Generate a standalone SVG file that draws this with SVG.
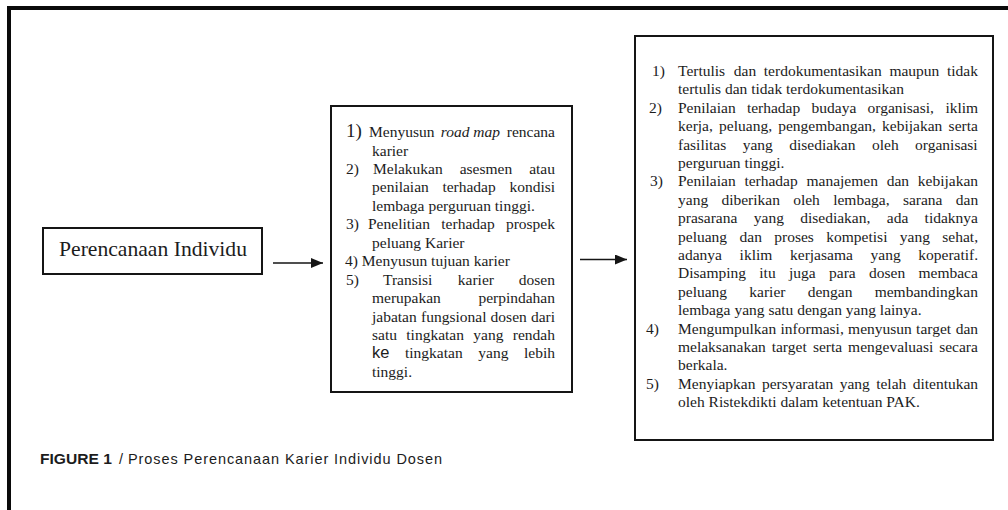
<svg xmlns="http://www.w3.org/2000/svg" width="1008" height="510" viewBox="0 0 1008 510">
<style>
.box{fill:#fff;stroke:#151515;stroke-width:2}
.t{font-family:"Liberation Serif","Times New Roman",serif;font-size:15.5px;fill:#1c1c1c}
.big{font-size:21px}
.num1{font-size:19px}
.cap{font-family:"Liberation Sans",Arial,sans-serif;font-size:14.5px;fill:#1c1c1c}
.conn{stroke:#151515;stroke-width:1.5;fill:none}
</style>
<defs>
<marker id="ah" markerUnits="userSpaceOnUse" markerWidth="12" markerHeight="10" refX="12" refY="5" orient="auto">
<path d="M0,0 L12,5 L0,10 Z" fill="#151515"/>
</marker>
</defs>
<rect width="1008" height="510" fill="#fff"/>
<path d="M9,512 V8 H1012" fill="none" stroke="#0a0a0a" stroke-width="4"/>

<g id="node-perencanaan">
<rect class="box" x="43" y="228" width="219" height="46"/>
<text class="t big" x="59" y="256" textLength="188" lengthAdjust="spacingAndGlyphs">Perencanaan Individu</text>
</g>

<g id="node-langkah">
<rect class="box" x="331" y="106" width="241" height="286"/>
<text class="t num1" x="346" y="137">1)</text>
<text class="t" y="137"><tspan x="369">Menyusun</tspan><tspan x="440.7" font-style="italic">road map</tspan><tspan x="506.8">rencana</tspan></text>
<text class="t" x="372" y="155.5">karier</text>
<text class="t" y="173.9"><tspan x="346">2)</tspan><tspan x="373">Melakukan</tspan><tspan x="459.7">asesmen</tspan><tspan x="529.2">atau</tspan></text>
<text class="t" y="192.4"><tspan x="372">penilaian</tspan><tspan x="442.4">terhadap</tspan><tspan x="509.4">kondisi</tspan></text>
<text class="t" x="372" y="210.8">lembaga perguruan tinggi.</text>
<text class="t" y="229.3"><tspan x="346">3)</tspan><tspan x="368">Penelitian</tspan><tspan x="441.3">terhadap</tspan><tspan x="505.9">prospek</tspan></text>
<text class="t" x="372" y="247.7">peluang Karier</text>
<text class="t" x="345" y="266.2">4) Menyusun tujuan karier</text>
<text class="t" y="284.6"><tspan x="346">5)</tspan><tspan x="383">Transisi</tspan><tspan x="457.8">karier</tspan><tspan x="518.8">dosen</tspan></text>
<text class="t" y="303.1"><tspan x="372">merupakan</tspan><tspan x="478.4">perpindahan</tspan></text>
<text class="t" y="321.5"><tspan x="372">jabatan</tspan><tspan x="421">fungsional</tspan><tspan x="490.6">dosen</tspan><tspan x="530.9">dari</tspan></text>
<text class="t" y="340"><tspan x="372">satu</tspan><tspan x="406.3">tingkatan</tspan><tspan x="473.3">yang</tspan><tspan x="512.8">rendah</tspan></text>
<text class="t" y="358.4"><tspan x="372" font-family="'Liberation Sans',Arial,sans-serif" font-size="16.5">ke</tspan><tspan x="405">tingkatan</tspan><tspan x="478.3">yang</tspan><tspan x="524">lebih</tspan></text>
<text class="t" x="372" y="376.9">tinggi.</text>
</g>

<g id="node-penjelasan">
<rect class="box" x="635" y="36" width="358" height="404"/>
<text class="t" x="652" y="76">1)</text>
<text class="t" y="76"><tspan x="678">Tertulis</tspan><tspan x="733.8">dan</tspan><tspan x="763.8">terdokumentasikan</tspan><tspan x="889.4">maupun</tspan><tspan x="946.9">tidak</tspan></text>
<text class="t" x="678" y="94.4">tertulis dan tidak terdokumentasikan</text>
<text class="t" x="649" y="112.8">2)</text>
<text class="t" y="112.8"><tspan x="678">Penilaian</tspan><tspan x="746.9">terhadap</tspan><tspan x="811.5">budaya</tspan><tspan x="867.5">organisasi,</tspan><tspan x="945.4">iklim</tspan></text>
<text class="t" y="131.2"><tspan x="678">kerja,</tspan><tspan x="719.1">peluang,</tspan><tspan x="778.2">pengembangan,</tspan><tspan x="882.1">kebijakan</tspan><tspan x="948.6">serta</tspan></text>
<text class="t" y="149.6"><tspan x="678">fasilitas</tspan><tspan x="742.7">yang</tspan><tspan x="789.2">disediakan</tspan><tspan x="872">oleh</tspan><tspan x="915.1">organisasi</tspan></text>
<text class="t" x="678" y="168">perguruan tinggi.</text>
<text class="t" x="650" y="186.4">3)</text>
<text class="t" y="186.4"><tspan x="678">Penilaian</tspan><tspan x="744.4">terhadap</tspan><tspan x="806.5">manajemen</tspan><tspan x="886.7">dan</tspan><tspan x="917.8">kebijakan</tspan></text>
<text class="t" y="204.8"><tspan x="678">yang</tspan><tspan x="721.4">diberikan</tspan><tspan x="793.2">oleh</tspan><tspan x="833.2">lembaga,</tspan><tspan x="902.9">sarana</tspan><tspan x="955.8">dan</tspan></text>
<text class="t" y="223.2"><tspan x="678">prasarana</tspan><tspan x="753.8">yang</tspan><tspan x="800.2">disediakan,</tspan><tspan x="886.8">ada</tspan><tspan x="924.6">tidaknya</tspan></text>
<text class="t" y="241.6"><tspan x="678">peluang</tspan><tspan x="739.5">dan</tspan><tspan x="774.3">proses</tspan><tspan x="826.3">kompetisi</tspan><tspan x="899.8">yang</tspan><tspan x="942.3">sehat,</tspan></text>
<text class="t" y="260"><tspan x="678">adanya</tspan><tspan x="739.6">iklim</tspan><tspan x="790">kerjasama</tspan><tspan x="870.5">yang</tspan><tspan x="918.3">koperatif.</tspan></text>
<text class="t" y="278.4"><tspan x="678">Disamping</tspan><tspan x="759.3">itu</tspan><tspan x="789">juga</tspan><tspan x="829">para</tspan><tspan x="869">dosen</tspan><tspan x="918.5">membaca</tspan></text>
<text class="t" y="296.8"><tspan x="678">peluang</tspan><tspan x="749.3">karier</tspan><tspan x="807.7">dengan</tspan><tspan x="874.7">membandingkan</tspan></text>
<text class="t" x="678" y="315.2">lembaga yang satu dengan yang lainya.</text>
<text class="t" x="646" y="333.6">4)</text>
<text class="t" y="333.6"><tspan x="678">Mengumpulkan</tspan><tspan x="780.5">informasi,</tspan><tspan x="848.1">menyusun</tspan><tspan x="916.1">target</tspan><tspan x="955.7">dan</tspan></text>
<text class="t" y="352"><tspan x="678">melaksanakan</tspan><tspan x="771.7">target</tspan><tspan x="812.9">serta</tspan><tspan x="848.1">mengevaluasi</tspan><tspan x="939.2">secara</tspan></text>
<text class="t" x="678" y="370.4">berkala.</text>
<text class="t" x="646" y="388.8">5)</text>
<text class="t" y="388.8"><tspan x="678">Menyiapkan</tspan><tspan x="761.9">persyaratan</tspan><tspan x="839.7">yang</tspan><tspan x="876.2">telah</tspan><tspan x="912.7">ditentukan</tspan></text>
<text class="t" x="678" y="407.2">oleh Ristekdikti dalam ketentuan PAK.</text>
</g>

<g id="connectors">
<line class="conn" x1="273" y1="263" x2="323" y2="263" marker-end="url(#ah)"/>
<line class="conn" x1="580" y1="259.5" x2="627" y2="259.5" marker-end="url(#ah)"/>
</g>

<g id="caption">
<text class="cap" y="464"><tspan x="40" font-weight="bold" textLength="72" lengthAdjust="spacingAndGlyphs">FIGURE 1</tspan><tspan x="119">/</tspan><tspan x="128" textLength="314" lengthAdjust="spacing">Proses Perencanaan Karier Individu Dosen</tspan></text>
</g>
</svg>
